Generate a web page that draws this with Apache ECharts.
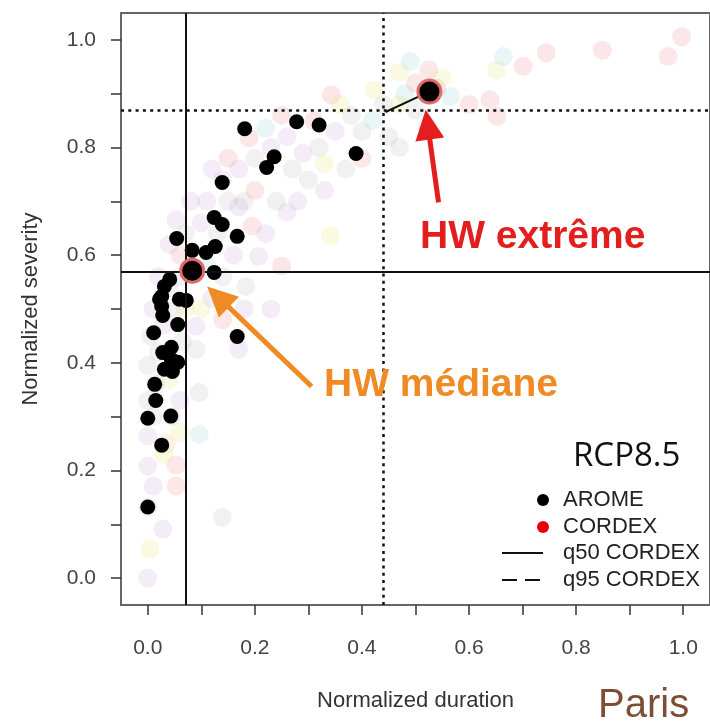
<!DOCTYPE html>
<html>
<head>
<meta charset="utf-8">
<script src="https://cdn.jsdelivr.net/npm/echarts@6/dist/echarts.min.js"></script>
<style>
  html, body { margin: 0; padding: 0; background: #ffffff; }
  #chart { width: 710px; height: 723px; }
</style>
</head>
<body>
<div id="chart"></div>
<script>
// Heat-wave events, Paris, RCP8.5: normalized duration (x) vs normalized severity (y)

// AROME events [duration, severity]
const aromeEvents = [
  [0.181, 0.835], [0.278, 0.848], [0.320, 0.842], [0.236, 0.783], [0.222, 0.763],
  [0.389, 0.789], [0.139, 0.735], [0.124, 0.670], [0.139, 0.657], [0.167, 0.635],
  [0.054, 0.631], [0.083, 0.609], [0.109, 0.605], [0.126, 0.616], [0.124, 0.568],
  [0.041, 0.555], [0.031, 0.542], [0.026, 0.523], [0.059, 0.518], [0.072, 0.516],
  [0.026, 0.505], [0.028, 0.488], [0.056, 0.471], [0.011, 0.456], [0.028, 0.419],
  [0.044, 0.429], [0.056, 0.401], [0.031, 0.388], [0.044, 0.406], [0.046, 0.384],
  [0.013, 0.360], [0.015, 0.330], [0.000, 0.297], [0.043, 0.301], [0.026, 0.247],
  [0.000, 0.132], [0.167, 0.449], [0.022, 0.518]
];

// CORDEX events [duration, severity, model colour index]
const cordexEvents = [
  [0.000, 0.000, 1], [0.004, 0.054, 4], [0.028, 0.091, 1], [0.000, 0.132, 2], [0.010, 0.171, 1],
  [0.053, 0.171, 0], [0.000, 0.208, 1], [0.053, 0.210, 0], [0.030, 0.230, 4], [0.000, 0.264, 1],
  [0.010, 0.300, 2], [0.000, 0.330, 2], [0.015, 0.360, 2], [0.000, 0.395, 2], [0.020, 0.420, 2],
  [0.040, 0.370, 4], [0.060, 0.330, 1], [0.045, 0.300, 2], [0.035, 0.250, 5], [0.060, 0.270, 4],
  [0.005, 0.450, 2], [0.030, 0.470, 1], [0.050, 0.500, 2], [0.010, 0.500, 1], [0.040, 0.540, 1],
  [0.020, 0.560, 1], [0.060, 0.560, 2], [0.070, 0.500, 4], [0.065, 0.440, 2],
  [0.096, 0.267, 3], [0.096, 0.345, 2], [0.090, 0.425, 2], [0.170, 0.425, 1], [0.139, 0.113, 2],
  [0.090, 0.468, 1], [0.100, 0.500, 4], [0.120, 0.520, 1], [0.140, 0.480, 0], [0.183, 0.542, 2],
  [0.207, 0.598, 1], [0.195, 0.654, 0], [0.053, 0.666, 1], [0.040, 0.620, 1], [0.070, 0.640, 2],
  [0.100, 0.660, 1], [0.110, 0.700, 1], [0.080, 0.700, 1], [0.150, 0.700, 2], [0.170, 0.690, 1],
  [0.130, 0.640, 2], [0.160, 0.600, 1], [0.140, 0.560, 2], [0.110, 0.580, 3], [0.060, 0.600, 0],
  [0.220, 0.640, 1], [0.240, 0.700, 2], [0.250, 0.580, 0], [0.230, 0.500, 1], [0.180, 0.500, 1],
  [0.341, 0.636, 4],
  [0.120, 0.760, 1], [0.150, 0.780, 0], [0.140, 0.740, 1], [0.170, 0.760, 1], [0.189, 0.818, 0],
  [0.220, 0.836, 3], [0.200, 0.780, 2], [0.230, 0.800, 1], [0.260, 0.820, 1], [0.270, 0.760, 2],
  [0.290, 0.790, 1], [0.300, 0.740, 2], [0.320, 0.800, 2], [0.330, 0.770, 4], [0.310, 0.850, 0],
  [0.343, 0.898, 0], [0.360, 0.880, 4], [0.380, 0.860, 2], [0.350, 0.830, 1], [0.400, 0.830, 2],
  [0.400, 0.780, 0], [0.423, 0.907, 4], [0.440, 0.880, 2], [0.420, 0.850, 3], [0.370, 0.760, 2],
  [0.280, 0.700, 1], [0.260, 0.680, 1], [0.200, 0.720, 0], [0.180, 0.700, 2], [0.330, 0.720, 1],
  [0.250, 0.860, 0],
  [0.470, 0.880, 4], [0.480, 0.900, 3], [0.500, 0.870, 2], [0.522, 0.839, 2], [0.525, 0.944, 0],
  [0.565, 0.895, 3], [0.550, 0.930, 4], [0.540, 0.910, 0], [0.500, 0.920, 0], [0.470, 0.940, 4],
  [0.490, 0.960, 3], [0.600, 0.880, 0], [0.639, 0.889, 0], [0.652, 0.858, 0], [0.652, 0.944, 4],
  [0.664, 0.969, 3], [0.701, 0.951, 0], [0.744, 0.976, 0], [0.849, 0.981, 0], [0.972, 0.969, 0],
  [0.997, 1.006, 0], [0.450, 0.820, 2], [0.470, 0.800, 2]
];

// Highlighted events: median and extreme heat wave
const medianEvent = [0.083, 0.571];
const extremeEvent = [0.526, 0.904];

// CORDEX quantiles [duration, severity]
const q50Cordex = [0.068, 0.570];
const q95Cordex = [0.444, 0.866];

// Annotation arrows [fromX, fromY, toX, toY]
const arrowMedian = [0.306, 0.356, 0.111, 0.542];
const arrowExtreme = [0.543, 0.698, 0.519, 0.870];

// Axis ticks and labels
const tickValues = [0, 0.1, 0.2, 0.3, 0.4, 0.5, 0.6, 0.7, 0.8, 0.9, 1.0];
const labelValues = [0, 0.2, 0.4, 0.6, 0.8, 1.0];

const cordexPalette = [
  'rgba(232, 110, 110, 0.17)',
  'rgba(190, 150, 212, 0.17)',
  'rgba(165, 165, 165, 0.16)',
  'rgba(110, 200, 200, 0.16)',
  'rgba(232, 232, 110, 0.2)',
  'rgba(240, 175, 110, 0.18)'
];
const arrowColors = ['#f08a24', '#e41e1e'];

const FONT = 'Liberation Sans, Arial, sans-serif';
const chart = echarts.init(document.getElementById('chart'), null, { renderer: 'canvas' });

function makeAxis(name, nameGap, labelMargin) {
  return {
    type: 'value',
    min: -0.05,
    max: 1.05,
    splitLine: { show: false },
    axisLine: { show: false, onZero: false },
    axisTick: {
      show: true,
      length: 10,
      customValues: tickValues,
      lineStyle: { color: '#333', width: 1.5 }
    },
    axisLabel: {
      customValues: labelValues,
      formatter: v => v.toFixed(1),
      fontSize: 21,
      fontFamily: FONT,
      color: '#444',
      margin: labelMargin
    },
    name: name,
    nameLocation: 'middle',
    nameGap: nameGap,
    nameTextStyle: { fontSize: 22, fontFamily: FONT, color: '#333' }
  };
}

const qLine = { color: '#111', width: 2, type: 'solid' };
const q95Line = { color: '#111', width: 2.5, type: [3, 4.3] };

const option = {
  animation: false,
  backgroundColor: '#ffffff',
  grid: {
    left: 121, top: 13, width: 594, height: 592,
    show: true, borderColor: '#666', borderWidth: 2, backgroundColor: 'transparent'
  },
  xAxis: makeAxis('Normalized duration', 85, 33),
  yAxis: makeAxis('Normalized severity', 79, 25),
  series: [
    {
      name: 'CORDEX',
      type: 'scatter',
      data: cordexEvents,
      symbolSize: 19,
      silent: true,
      itemStyle: { color: p => cordexPalette[p.value[2]], opacity: 1 },
      z: 1
    },
    {
      name: 'quantiles',
      type: 'line',
      data: [],
      silent: true,
      z: 2,
      markLine: {
        silent: true,
        symbol: ['none', 'none'],
        label: { show: false },
        data: [
          { xAxis: q50Cordex[0], lineStyle: qLine },
          { yAxis: q50Cordex[1], lineStyle: qLine },
          { xAxis: q95Cordex[0], lineStyle: q95Line },
          { yAxis: q95Cordex[1], lineStyle: q95Line }
        ]
      }
    },
    {
      name: 'link',
      type: 'line',
      data: [q95Cordex, extremeEvent],
      symbol: 'none',
      silent: true,
      lineStyle: { color: '#111', width: 2 },
      z: 3
    },
    {
      name: 'AROME',
      type: 'scatter',
      data: aromeEvents,
      symbolSize: 15,
      silent: true,
      itemStyle: { color: '#000', opacity: 1 },
      z: 4
    },
    {
      name: 'highlight',
      type: 'scatter',
      data: [medianEvent, extremeEvent],
      symbolSize: 23,
      silent: true,
      itemStyle: { color: '#000', borderColor: '#e06a6a', borderWidth: 3, opacity: 1 },
      z: 5
    },
    {
      name: 'arrows',
      type: 'custom',
      data: [arrowMedian, arrowExtreme],
      encode: { x: [0, 2], y: [1, 3] },
      silent: true,
      clip: false,
      z: 6,
      renderItem: function (params, api) {
        const a = api.coord([api.value(0), api.value(1)]);
        const b = api.coord([api.value(2), api.value(3)]);
        const dx = b[0] - a[0], dy = b[1] - a[1];
        const len = Math.hypot(dx, dy);
        const ux = dx / len, uy = dy / len;
        const headLen = 30, headHalf = 14.5;
        const base = [b[0] - ux * headLen, b[1] - uy * headLen];
        const color = arrowColors[params.dataIndex];
        return {
          type: 'group',
          children: [
            {
              type: 'line',
              shape: { x1: a[0], y1: a[1], x2: base[0] + ux * 3, y2: base[1] + uy * 3 },
              style: { stroke: color, lineWidth: 5 }
            },
            {
              type: 'polygon',
              shape: { points: [b, [base[0] - uy * headHalf, base[1] + ux * headHalf], [base[0] + uy * headHalf, base[1] - ux * headHalf]] },
              style: { fill: color }
            }
          ]
        };
      }
    }
  ],
  graphic: [
    // annotations
    { type: 'text', left: 420, top: 218, z: 10,
      style: { text: 'HW extrême', fill: '#e41e1e', font: 'bold 39px ' + FONT } },
    { type: 'text', left: 324, top: 366, z: 10,
      style: { text: 'HW médiane', fill: '#f08a24', font: 'bold 39px ' + FONT } },
    // legend
    { type: 'text', left: 573, top: 440, z: 10,
      style: { text: 'RCP8.5', fill: '#111', font: '33px "Open Sans", sans-serif' } },
    { type: 'circle', shape: { cx: 543, cy: 500, r: 6 }, style: { fill: '#000' }, z: 10 },
    { type: 'text', left: 563, top: 489, z: 10,
      style: { text: 'AROME', fill: '#222', font: '22px ' + FONT } },
    { type: 'circle', shape: { cx: 543, cy: 527, r: 6 }, style: { fill: '#e8000b' }, z: 10 },
    { type: 'text', left: 563, top: 516, z: 10,
      style: { text: 'CORDEX', fill: '#222', font: '22px ' + FONT } },
    { type: 'line', shape: { x1: 502, y1: 553, x2: 543, y2: 553 }, style: { stroke: '#111', lineWidth: 2 }, z: 10 },
    { type: 'text', left: 563, top: 542, z: 10,
      style: { text: 'q50 CORDEX', fill: '#222', font: '22px ' + FONT } },
    { type: 'line', shape: { x1: 502, y1: 580, x2: 543, y2: 580 }, style: { stroke: '#111', lineWidth: 2, lineDash: [15, 8] }, z: 10 },
    { type: 'text', left: 563, top: 569, z: 10,
      style: { text: 'q95 CORDEX', fill: '#222', font: '22px ' + FONT } },
    // location
    { type: 'text', left: 598, top: 686, z: 10,
      style: { text: 'Paris', fill: '#7d4e35', font: '40px ' + FONT } }
  ]
};

chart.setOption(option);
</script>
</body>
</html>
